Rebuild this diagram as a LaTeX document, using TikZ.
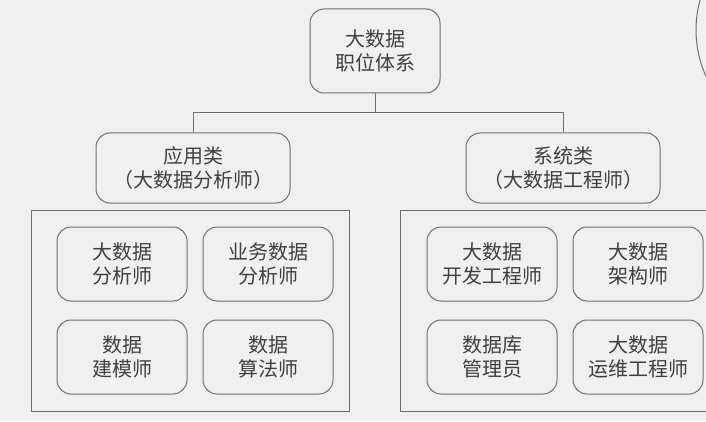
\documentclass[tikz,border=0pt]{standalone}
\usepackage{fontspec}
\setmainfont{Noto Sans CJK SC}
\usetikzlibrary{positioning}
\definecolor{LineGray}{RGB}{112,112,112}
\definecolor{TextGray}{RGB}{64,64,64}
\definecolor{PaperGray}{RGB}{240,240,240}

\begin{document}
\begin{tikzpicture}[x=1pt,y=1pt,
  box/.style={draw=LineGray,line width=1pt,rounded corners=14pt,text=TextGray,
    align=center,inner sep=0pt,font=\fontsize{20}{24}\selectfont},
  job/.style={box,minimum width=130pt,minimum height=74pt},
  group/.style={box,minimum width=194pt,minimum height=70pt},
  panel/.style={draw=LineGray,line width=1pt}]
  \clip (0,0) rectangle (706,421);
  \fill[PaperGray] (0,0) rectangle (706,421);
  \draw[panel] (808,391) circle (112);
  \node[box,minimum width=130pt,minimum height=84pt] (root) at (375,370) {大数据\\职位体系};
  \node[group] (app) at (193,253) {应用类\\（大数据分析师）};
  \node[group] (sys) at (563,253) {系统类\\（大数据工程师）};
  \draw[panel] (root.south) -- ++(0,-19) coordinate (bus);
  \draw[panel] (app.north) |- (bus) -| (sys.north);
  \draw[panel] (31,10) rectangle (349,211);
  \draw[panel] (400,10) rectangle (716,211);
  \node[job] (bigan) at (122,157) {大数据\\分析师};
  \node[job,right=15pt of bigan] (bizan) {业务数据\\分析师};
  \node[job,below=18pt of bigan] (model) {数据\\建模师};
  \node[job,below=18pt of bizan] (algo) {数据\\算法师};
  \node[job] (dev) at (492,157) {大数据\\开发工程师};
  \node[job,right=15pt of dev] (arch) {大数据\\架构师};
  \node[job,below=18pt of dev] (dba) {数据库\\管理员};
  \node[job,below=18pt of arch] (ops) {大数据\\运维工程师};
\end{tikzpicture}
\end{document}
